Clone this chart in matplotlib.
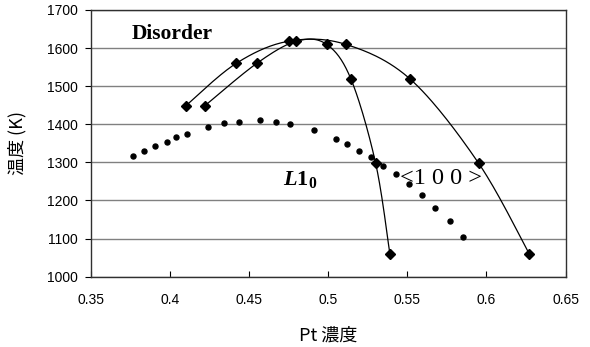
# Pt phase diagram: order-disorder temperature vs Pt concentration

# Importing libraries
import numpy as np
import matplotlib
matplotlib.use("Agg")
import matplotlib.pyplot as plt

# Setting up data
# outer transition curve (diamonds)
outer_x = [0.410, 0.442, 0.475, 0.511, 0.552, 0.595, 0.627]
outer_t = [1448, 1560, 1618, 1610, 1518, 1298, 1060]
# inner transition curve (diamonds)
inner_x = [0.422, 0.455, 0.480, 0.499, 0.5145, 0.530, 0.539]
inner_t = [1448, 1560, 1618, 1610, 1518, 1298, 1060]
# <100> dots
dot_x = [0.377, 0.384, 0.391, 0.398, 0.404, 0.411, 0.424, 0.434, 0.4435,
         0.457, 0.467, 0.476, 0.491, 0.505, 0.512, 0.5195, 0.527, 0.5345,
         0.543, 0.551, 0.559, 0.5675, 0.577, 0.585]
dot_t = [1317, 1330, 1342, 1354, 1367, 1375, 1393, 1403, 1406, 1410, 1406,
         1401, 1385, 1361, 1348, 1331, 1313, 1291, 1269, 1242, 1214, 1181,
         1146, 1104]

x_ticks = [0.35, 0.40, 0.45, 0.50, 0.55, 0.60, 0.65]
x_tick_labels = ["0.35", "0.4", "0.45", "0.5", "0.55", "0.6", "0.65"]
y_ticks = [1000, 1100, 1200, 1300, 1400, 1500, 1600, 1700]

plt.rcParams["mathtext.fontset"] = "custom"
plt.rcParams["mathtext.rm"] = "Liberation Serif"
plt.rcParams["mathtext.it"] = "Liberation Serif:italic:bold"
plt.rcParams["mathtext.bf"] = "Liberation Serif:bold"


def smooth_line(ax, xs, ys, steps=30):
    """Excel-like smoothed line (Catmull-Rom Bezier) drawn in display space."""
    pts = ax.transData.transform(np.column_stack([xs, ys]))
    padded = np.vstack([pts[0], pts, pts[-1]])
    out = []
    t = np.linspace(0, 1, steps)[:, None]
    for i in range(1, len(padded) - 2):
        p0, p1, p2, p3 = padded[i - 1], padded[i], padded[i + 1], padded[i + 2]
        c1 = p1 + (p2 - p0) / 6.0
        c2 = p2 - (p3 - p1) / 6.0
        seg = ((1 - t) ** 3) * p1 + 3 * ((1 - t) ** 2) * t * c1 \
            + 3 * (1 - t) * t ** 2 * c2 + t ** 3 * p2
        out.append(seg)
    out = np.vstack(out)
    return ax.transData.inverted().transform(out)


fig = plt.figure(figsize=(5.9, 3.47), dpi=100)
ax = fig.add_axes([0.1534, 0.2026, 0.8054, 0.7686])
ax.set_xlim(0.35, 0.65)
ax.set_ylim(1000, 1700)

# grid lines
ax.set_yticks(y_ticks)
ax.yaxis.grid(True, color="#808080", linewidth=1.0)
ax.set_axisbelow(True)

# curves
for xs, ys in [(outer_x, outer_t), (inner_x, inner_t)]:
    curve = smooth_line(ax, xs, ys)
    ax.plot(curve[:, 0], curve[:, 1], color="black", linewidth=0.9, zorder=3)
    ax.plot(xs, ys, linestyle="none", marker="D", markersize=5.2,
            color="black", zorder=4)

ax.plot(dot_x, dot_t, linestyle="none", marker="o", markersize=3.6,
        color="black", zorder=4)

# annotations
ax.text(0.376, 1637, "Disorder", family="Liberation Serif", fontweight="bold",
        fontsize=15.5, ha="left", va="center")
ax.text(0.4715, 1256, r"$\mathit{L}\mathbf{1}_{\mathbf{0}}$", fontsize=16,
        ha="left", va="center")
ax.text(0.5453, 1258, "<1 0 0 >", family="Liberation Serif", fontsize=17.5,
        ha="left", va="center")

# axes styling
ax.set_xticks(x_ticks)
ax.set_xticklabels(x_tick_labels)
ax.tick_params(axis="x", direction="in", length=4, width=0.8, pad=12,
               labelsize=10, colors="black")
ax.tick_params(axis="y", direction="out", length=4, width=0.8, pad=5,
               labelsize=10)
for lab in ax.get_xticklabels() + ax.get_yticklabels():
    lab.set_family("Liberation Sans")
for side in ["top", "right", "left", "bottom"]:
    ax.spines[side].set_color("#303030")
    ax.spines[side].set_linewidth(1.0)

ax.set_xlabel("Pt 濃度", family=["Noto Sans CJK JP", "DejaVu Sans"],
              fontsize=13, labelpad=14)
ax.set_ylabel("温度 (K)", family=["Noto Sans CJK JP", "DejaVu Sans"],
              fontsize=13, labelpad=15)

fig.savefig("out.png", dpi=100)
